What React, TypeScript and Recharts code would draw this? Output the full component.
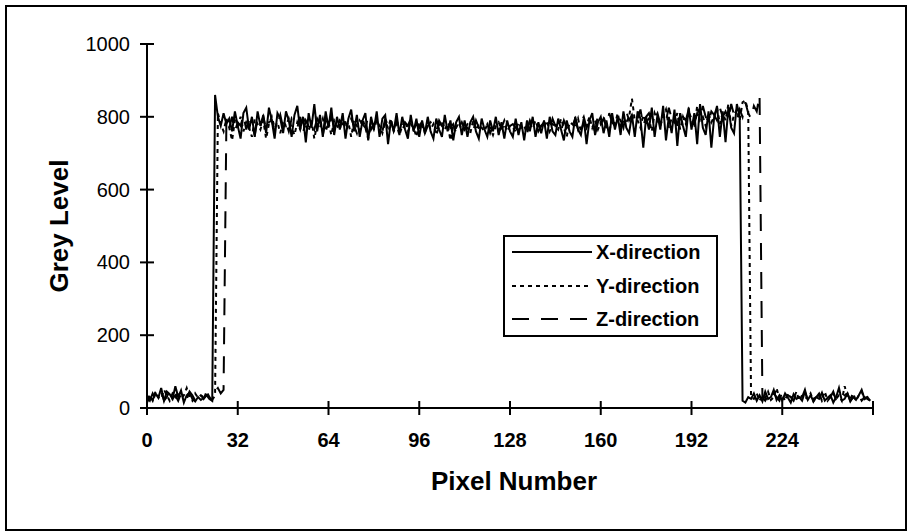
import React from "react";
import { LineChart, Line, XAxis, YAxis, Label } from "recharts";

// x positions: pixel index 0..255
const X_TICKS = [0, 32, 64, 96, 128, 160, 192, 224, 256];
const X_TICK_LABELS = ["0", "32", "64", "96", "128", "160", "192", "224", ""];
const Y_TICKS = [0, 200, 400, 600, 800, 1000];

const X_DIR = [
  15, 30, 22, 40, 28, 55, 20, 45, 38, 25, 60, 30, 48, 15, 35, 42, 25, 18, 30, 22, 28, 35, 25, 20,
  860, 800, 775, 810, 780, 795,
  760, 815, 775, 740, 810, 825, 765, 800, 745, 815,
  775, 805, 755, 825, 790, 740, 810, 795, 755, 815,
  790, 745, 805, 830, 765, 800, 730, 810, 770, 835,
  760, 805, 745, 815, 770, 825, 750, 800, 765, 810,
  740, 795, 820, 760, 805, 745, 790, 810, 735, 800,
  765, 815, 745, 795, 805, 725, 790, 760, 810, 750,
  800, 765, 740, 805, 760, 795, 745, 790, 755, 800,
  760, 740, 795, 765, 745, 805, 760, 790, 735, 785,
  800, 750, 790, 745, 785, 800, 760, 740, 795, 765,
  745, 790, 760, 800, 750, 785, 740, 790, 760, 745,
  795, 750, 785, 735, 790, 760, 800, 745, 785, 755,
  790, 740, 800, 760, 750, 795, 765, 735, 790, 760,
  745, 800, 765, 750, 795, 725, 790, 810, 750, 785,
  800, 755, 790, 745, 810, 765, 800, 750, 815, 770,
  755, 805, 745, 815, 795, 715, 800, 765, 825, 745,
  805, 765, 830, 735, 800, 755, 820, 720, 810, 775,
  745, 825, 765, 810, 725, 835, 770, 750, 815, 715,
  800, 830, 745, 815, 730, 825, 770, 755, 835, 800,
  20, 15, 30, 25, 40, 20, 35, 18, 45, 25, 30, 50, 22, 35, 20, 40, 28, 15, 38, 25,
  30, 20, 45, 22, 35, 18, 30, 25, 42, 20, 28, 35, 15, 30, 55, 20, 25, 40, 18, 30,
  22, 35, 50, 25, 30, 20,
];

const Y_DIR = [
  25, 35, 20, 45, 30, 25, 50, 35, 20, 40, 30, 45, 25, 35, 55, 30, 20, 40, 28, 35, 25, 45, 30, 22, 35,
  810, 780, 760, 795, 770,
  735, 790, 775, 800, 760, 785, 770, 745, 795, 780,
  765, 790, 740, 780, 800, 770, 785, 755, 790, 775,
  795, 770, 750, 785, 765, 800, 775, 760, 790, 740,
  780, 770, 795, 760, 785, 750, 790, 775, 765, 800,
  770, 785, 745, 790, 775, 760, 795, 770, 740, 785,
  765, 790, 775, 755, 785, 770, 795, 760, 780, 750,
  775, 790, 760, 780, 770, 745, 785, 775, 760, 790,
  765, 780, 750, 775, 790, 765, 780, 735, 775, 770,
  785, 760, 775, 770, 755, 790, 765, 780, 770, 760,
  780, 770, 750, 775, 785, 765, 780, 760, 775, 770,
  760, 785, 770, 775, 755, 780, 770, 790, 765, 775,
  770, 790, 760, 780, 775, 765, 795, 770, 745, 785,
  780, 770, 795, 760, 785, 775, 800, 770, 790, 765,
  785, 800, 775, 760, 795, 780, 810, 770, 790, 785,
  800, 850, 790, 790, 770, 805, 785, 795, 760, 810,
  790, 775, 800, 820, 770, 795, 785, 810, 765, 800,
  780, 815, 795, 770, 830, 790, 800, 775, 810, 785,
  800, 825, 780, 810, 790, 835, 775, 805, 820, 790,
  840, 845, 815,
  30, 25, 40, 20, 35, 28, 45, 22, 30, 55, 25, 35, 20, 40, 30, 25, 45, 20, 35, 30,
  25, 40, 18, 30, 35, 25, 45, 20, 30, 40, 25, 35, 20, 60, 30, 25, 40, 20, 35, 45,
  25, 30, 20,
];

const Z_DIR = [
  30, 20, 40, 25, 35, 45, 20, 30, 50, 25, 35, 20, 40, 30, 25, 45, 35, 20, 30, 40, 25, 35, 30, 20, 45, 55, 40, 50,
  790, 770,
  800, 760, 785, 775, 805, 765, 790, 780, 750, 795,
  775, 800, 765, 785, 790, 760, 780, 805, 770, 785,
  760, 795, 780, 770, 800, 755, 790, 775, 785, 765,
  795, 780, 750, 790, 770, 800, 775, 760, 790, 780,
  785, 765, 795, 775, 755, 790, 780, 770, 800, 765,
  780, 790, 770, 760, 795, 775, 785, 765, 790, 770,
  760, 785, 775, 795, 765, 780, 770, 790, 755, 775,
  785, 770, 760, 790, 775, 765, 785, 770, 780, 755,
  770, 785, 765, 780, 775, 760, 790, 770, 775, 765,
  780, 755, 775, 785, 760, 770, 790, 765, 775, 780,
  770, 760, 785, 775, 765, 790, 770, 780, 760, 775,
  785, 770, 765, 795, 775, 780, 760, 790, 770, 785,
  775, 795, 765, 785, 800, 770, 790, 780, 760, 805,
  780, 795, 770, 810, 785, 775, 800, 790, 770, 815,
  790, 805, 780, 795, 820, 775, 800, 810, 785, 795,
  810, 780, 800, 790, 825, 795, 805, 775, 815, 800,
  790, 820, 800, 780, 810, 795, 830, 800, 785, 815,
  805, 790, 825, 800, 815, 795, 835, 805, 790, 820,
  800, 840, 810, 795, 830, 815, 860,
  30, 20, 35, 25, 40, 30, 20, 45, 25, 35, 30, 20, 40, 25, 30, 50, 20, 35, 25, 30,
  40, 20, 35, 25, 30, 45, 20, 30, 25, 35, 40, 20, 30, 25, 35, 20, 30, 25, 20,
];

const SERIES = [
  { key: "x", name: "X-direction", dash: undefined as string | undefined },
  { key: "y", name: "Y-direction", dash: "4 4" },
  { key: "z", name: "Z-direction", dash: "17 12" },
];

const FONT = "'Liberation Sans', Arial, sans-serif";

const data = X_DIR.map((v, i) => ({ px: i, x: v, y: Y_DIR[i], z: Z_DIR[i] }));

function XTick(props: any) {
  const { x, y, payload } = props;
  const idx = X_TICKS.indexOf(payload.value);
  return (
    <g>
      <line x1={x} y1={y - 7} x2={x} y2={y + 7} stroke="#000" strokeWidth={2} />
      <text x={x} y={y + 39} textAnchor="middle" fontSize={20} fontWeight="bold" fontFamily={FONT} fill="#000">
        {X_TICK_LABELS[idx]}
      </text>
    </g>
  );
}

function YTick(props: any) {
  const { x, y, payload } = props;
  return (
    <g>
      <line x1={x - 7} y1={y} x2={x + 7} y2={y} stroke="#000" strokeWidth={2} />
      <text x={x - 17} y={y} dy="0.35em" textAnchor="end" fontSize={20} fontFamily={FONT} fill="#000">
        {payload.value}
      </text>
    </g>
  );
}

// legend drawn as a small svg box over the plot
function LegendBox() {
  const rowCenters = [18, 52, 85];
  return (
    <svg
      width={218}
      height={106}
      style={{ position: "absolute", left: 502, top: 234, overflow: "visible" }}
    >
      <rect x={2} y={2} width={213} height={100} fill="#fff" stroke="#000" strokeWidth={2} />
      {SERIES.map((s, i) => (
        <g key={s.key}>
          <line x1={10} y1={rowCenters[i]} x2={90} y2={rowCenters[i]} stroke="#000" strokeWidth={2} strokeDasharray={s.dash} />
          <text x={94} y={rowCenters[i] + 7} fontSize={20} fontWeight="bold" fontFamily={FONT} fill="#000">
            {s.name}
          </text>
        </g>
      ))}
    </svg>
  );
}

export default function App() {
  return (
    <div style={{ position: "absolute", left: 0, top: 0, width: 912, height: 532, background: "#fff" }}>
      <div
        style={{
          position: "absolute",
          left: 5,
          top: 5,
          width: 902,
          height: 526,
          border: "2px solid #000",
          boxSizing: "border-box",
        }}
      />
      <div style={{ position: "absolute", left: 0, top: 0 }}>
        <LineChart width={912} height={532} data={data} margin={{ top: 44, right: 39, left: 87, bottom: 94 }}>
          <XAxis
            dataKey="px"
            type="number"
            domain={[0, 256]}
            ticks={X_TICKS}
            interval={0}
            height={30}
            tickSize={0}
            tickMargin={0}
            tickLine={false}
            axisLine={{ stroke: "#000", strokeWidth: 2 }}
            tick={<XTick />}
          >
            <Label
              content={(p: any) => {
                const vb = p.viewBox || { x: 147, y: 408, width: 726, height: 30 };
                return (
                  <text x={vb.x + vb.width / 2 + 4} y={vb.y + 82} textAnchor="middle" fontSize={26} fontWeight="bold" fontFamily={FONT} fill="#000">
                    Pixel Number
                  </text>
                );
              }}
            />
          </XAxis>
          <YAxis
            type="number"
            domain={[0, 1000]}
            ticks={Y_TICKS}
            interval={0}
            width={60}
            tickSize={0}
            tickMargin={0}
            tickLine={false}
            axisLine={{ stroke: "#000", strokeWidth: 2 }}
            tick={<YTick />}
          >
            <Label
              content={(p: any) => {
                const vb = p.viewBox || { x: 87, y: 44, width: 60, height: 364 };
                const cx = vb.x - 19;
                const cy = vb.y + vb.height / 2;
                return (
                  <text x={cx} y={cy} transform={`rotate(-90, ${cx}, ${cy})`} textAnchor="middle" fontSize={26} fontWeight="bold" fontFamily={FONT} fill="#000">
                    Grey Level
                  </text>
                );
              }}
            />
          </YAxis>
          {SERIES.map((s) => (
            <Line
              key={s.key}
              dataKey={s.key}
              name={s.name}
              type="linear"
              stroke="#000"
              strokeWidth={2}
              strokeDasharray={s.dash}
              dot={false}
              activeDot={false}
              isAnimationActive={false}
            />
          ))}
        </LineChart>
      </div>
      <LegendBox />
    </div>
  );
}
